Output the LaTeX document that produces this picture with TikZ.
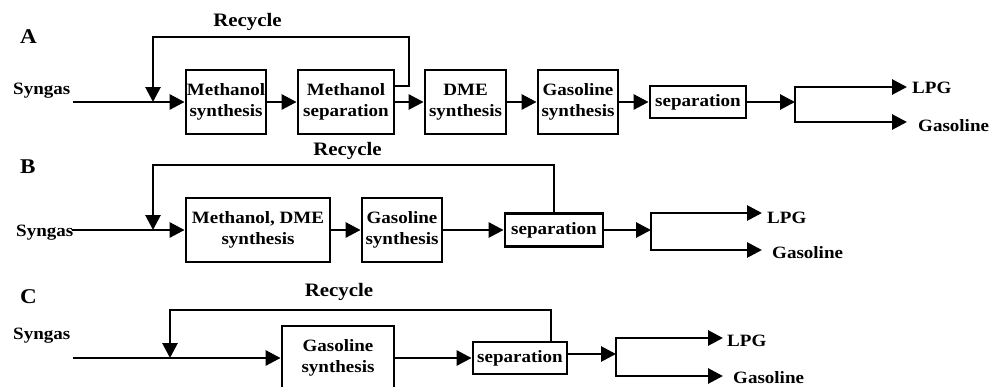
\documentclass[tikz,border=0pt]{standalone}
\usepackage{fontspec}
\setmainfont{Liberation Serif}[FakeStretch=1.1]
\usetikzlibrary{arrows.meta}
\begin{document}
\begin{tikzpicture}[x=1pt,y=-1pt,
  flow/.style={line width=2.8pt},
  arr/.style={flow,-{Triangle[length=15pt,width=15pt]}},
  unit/.style={draw,line width=2.8pt,minimum height=64pt,inner sep=0pt,
    align=center,font=\fontsize{17.3}{20.5}\selectfont\bfseries},
  sepbox/.style={unit,minimum height=32pt},
  txt/.style={inner sep=0pt,font=\fontsize{17.3}{20}\selectfont\bfseries},
  feed/.style={txt,anchor=base west,font=\fontsize{17.3}{20}\selectfont\bfseries},
  rec/.style={txt,anchor=base,font=\fontsize{19}{22}\selectfont\bfseries},
  panel/.style={txt,anchor=base west,font=\fontsize{21}{24}\selectfont\bfseries},
  prod/.style={txt,anchor=base west}
]
\clip (0,0) rectangle (989,386);

% ---------------- Scheme A ----------------
\node[panel] (labA) at (20,43) {A};
\node[rec] (recA) at (247.5,26) {Recycle};
\node[feed] (synA) at (13,94) {Syngas};
\coordinate (inA) at (73,102);
\coordinate (jA) at (153,102);
\node[unit,minimum width=80pt] (msA) at (226,102) {Methanol\\synthesis};
\node[unit,minimum width=96pt] (mspA) at (346,102) {Methanol\\separation};
\node[unit,minimum width=81pt] (dmeA) at (465.5,102) {DME\\synthesis};
\node[unit,minimum width=80pt] (gsA) at (578,102) {Gasoline\\synthesis};
\node[sepbox,minimum width=96pt] (sepA) at (698,102) {separation};
\coordinate (spA) at (795,102);
\coordinate (lpgAe) at (907,87);
\coordinate (gasAe) at (907,122);
\node[prod] (lpgA) at (912,93) {LPG};
\node[prod] (gasA) at (918,131) {Gasoline};
\coordinate (rA) at (409,37);

\draw[arr] (inA) -- (msA);
\draw[arr] (msA) -- (mspA);
\draw[arr] (mspA) -- (dmeA);
\draw[arr] (dmeA) -- (gsA);
\draw[arr] (gsA) -- (sepA);
\draw[arr] (sepA) -- (spA);
\draw[arr] (spA) |- (lpgAe);
\draw[arr] (spA) |- (gasAe);
\draw[arr] ([yshift=16pt]mspA.east) -| (rA) -| (jA);

% ---------------- Scheme B ----------------
\node[panel] (labB) at (20,173) {B};
\node[rec] (recB) at (347.5,155) {Recycle};
\node[feed] (synB) at (16,236) {Syngas};
\coordinate (inB) at (72,230);
\coordinate (jB) at (153,230);
\node[unit,minimum width=144pt] (mdB) at (258,230) {Methanol, DME\\synthesis};
\node[unit,minimum width=80pt] (gsB) at (402,230) {Gasoline\\synthesis};
\node[sepbox,minimum width=98pt,minimum height=33pt] (sepB) at (554,230) {separation};
\coordinate (spB) at (651,230);
\coordinate (lpgBe) at (762,213);
\coordinate (gasBe) at (762,250);
\node[prod] (lpgB) at (767,223) {LPG};
\node[prod] (gasB) at (772,258) {Gasoline};
\coordinate (rB) at (554,165);

\draw[arr] (inB) -- (mdB);
\draw[arr] (mdB) -- (gsB);
\draw[arr] (gsB) -- (sepB);
\draw[arr] (sepB) -- (spB);
\draw[arr] (spB) |- (lpgBe);
\draw[arr] (spB) |- (gasBe);
\draw[arr] (sepB.north) -- (rB) -| (jB);

% ---------------- Scheme C ----------------
\node[panel] (labC) at (20,303) {C};
\node[rec] (recC) at (339,296) {Recycle};
\node[feed] (synC) at (13,339) {Syngas};
\coordinate (inC) at (73,358);
\coordinate (jC) at (170,358);
\node[unit,minimum width=112pt] (gsC) at (338,358) {Gasoline\\synthesis};
\node[sepbox,minimum width=94pt] (sepC) at (520,358) {separation};
\coordinate (spC) at (616,354);
\coordinate (lpgCe) at (723,338);
\coordinate (gasCe) at (723,376);
\node[prod] (lpgC) at (727,346) {LPG};
\node[prod] (gasC) at (733,383) {Gasoline};
\coordinate (rC) at (551,310);

\draw[arr] (inC) -- (gsC);
\draw[arr] (gsC) -- (sepC);
\draw[arr] ([yshift=4pt]sepC.east) -- (spC);
\draw[arr] (spC) |- (lpgCe);
\draw[arr] (spC) |- (gasCe);
\draw[arr] (rC |- sepC.north) -- (rC) -| (jC);
\end{tikzpicture}
\end{document}
